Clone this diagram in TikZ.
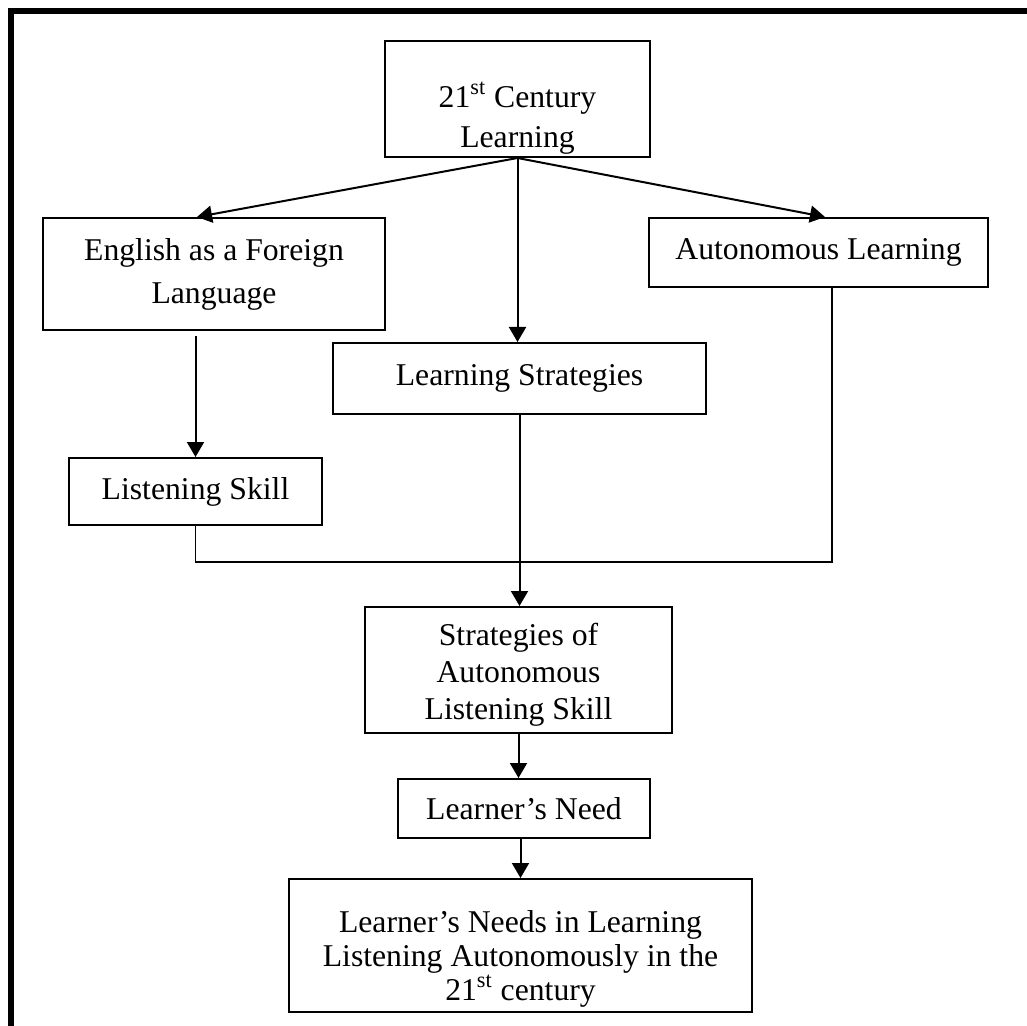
\documentclass[tikz,border=0pt]{standalone}
\usepackage{fontspec}
\setmainfont{Liberation Serif}
\usetikzlibrary{arrows.meta}

\begin{document}
\begin{tikzpicture}[x=0.5pt,y=-0.5pt,
    txt/.style={align=center,inner sep=0pt,
        font=\fontsize{15.85pt}{21.5pt}\selectfont},
    box/.style={txt,draw,line width=1pt},
    arr/.style={line width=1pt,-{Triangle[length=7.5pt,width=8.5pt]}},
    link/.style={line width=0.8pt}
]

\useasboundingbox (0,0) rectangle (1027,1026);

% Frame
\draw[line width=3pt] (11,1026) -- (11,11.5) -- (1027,11.5);

% Boxes
\node[box,minimum width=132.5pt,minimum height=58pt] (cent) at (517.5,99) {};
\node[txt,font=\fontsize{15.85pt}{20pt}\selectfont,yshift=-9.5pt] at (cent)
    {21\textsuperscript{st} Century\\Learning};
\node[box,minimum width=171pt,minimum height=56pt] (efl) at (214,274)
    {English as a Foreign\\Language};
\node[box,minimum width=169.5pt,minimum height=34.5pt] (auto) at (818.5,252.5)
    {Autonomous Learning};
\node[box,minimum width=186.5pt,minimum height=35.5pt] (lstrat) at (519.5,378.5)
    {Learning Strategies};
\node[box,minimum width=126.5pt,minimum height=33.5pt] (listen) at (195.5,491.5)
    {Listening Skill};
\node[box,minimum width=153.5pt,minimum height=63pt] (sals) at (518.5,670) {};
\node[txt,font=\fontsize{15.85pt}{18.5pt}\selectfont,yshift=-2.5pt] at (sals)
    {Strategies of\\Autonomous\\Listening Skill};
\node[box,minimum width=126pt,minimum height=29.5pt] (need) at (524,808.5)
    {Learner’s Need};
\node[box,minimum width=231.5pt,minimum height=66.5pt] (needs) at (520.5,945.5) {};
\node[txt,font=\fontsize{15.85pt}{17pt}\selectfont,yshift=-6.5pt] at (needs)
    {Learner’s Needs in Learning\\Listening Autonomously in the\\21\textsuperscript{st} century};

% Connections
\draw[arr] (cent.south) -- ([xshift=-8.5pt]efl.north);
\draw[arr] (cent.south) -- ([xshift=3.25pt]auto.north);
\draw[arr] (cent.south) -- (cent.south |- lstrat.north);
\draw[arr] (listen.north |- efl.south) ++(0,5) -- (listen.north);

\coordinate (join) at (lstrat.south |- 0,562);
\draw[link] (listen.south) |- (join) -| ([xshift=6.75pt]auto.south);
\draw[arr] (lstrat.south) -- (lstrat.south |- sals.north);

\draw[arr] (sals.south) -- (sals.south |- need.north);
\draw[arr] (needs.north |- need.south) -- (needs.north);

\end{tikzpicture}
\end{document}
